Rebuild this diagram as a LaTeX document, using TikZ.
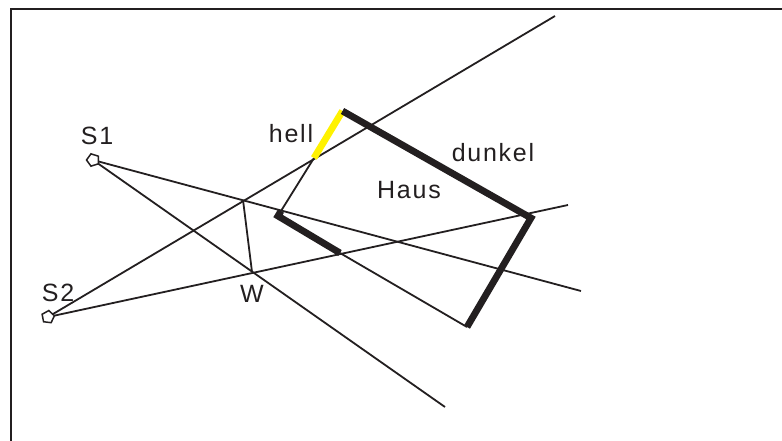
\documentclass[tikz,border=0pt]{standalone}
\usepackage{fontspec}
\setmainfont[LetterSpace=7]{Liberation Sans}
\definecolor{ink}{RGB}{35,31,32}
\usetikzlibrary{shapes.geometric}
\tikzset{
  thinline/.style={draw=ink,line width=1.8pt},
  thickline/.style={draw=ink,line width=6.8pt,line cap=butt,line join=miter},
  lightline/.style={draw=yellow,line width=6.8pt},
  source/.style={draw=ink,line width=1.5pt,fill=white,regular polygon,regular polygon sides=5,minimum size=13pt,inner sep=0pt},
  lbl/.style={text=ink,font=\fontsize{25}{28}\selectfont,inner sep=0pt,anchor=base}
}
\begin{document}
\begin{tikzpicture}[x=1pt,y=-1pt]
\useasboundingbox (0,0) rectangle (782,441);
\fill[white] (0,0) rectangle (782,441);
\coordinate (FA) at (11,441);
\coordinate (FB) at (11,9);
\coordinate (FC) at (782,9);
\draw[draw=ink,line width=2.2pt] (FA) -- (FB) -- (FC);
\coordinate (E1) at (581,291);
\coordinate (E2) at (445,407);
\coordinate (E3) at (555,16);
\coordinate (E4) at (568,205);
\coordinate (A) at (243,200);
\coordinate (W) at (252,272);
\coordinate (H1) at (314,158);
\coordinate (H2) at (342.5,111);
\coordinate (H3) at (531,218);
\coordinate (H4) at (467,327);
\coordinate (H5) at (340,253);
\coordinate (H6) at (278,216);
\coordinate (H7) at (281,211);
\draw[thinline] (93,160) -- (E1);
\draw[thinline] (93,160) -- (E2);
\draw[thinline] (48,317) -- (E3);
\draw[thinline] (48,317) -- (E4);
\draw[thinline] (A) -- (W);
\draw[thinline] (H1) -- (H7);
\draw[thinline] (H4) -- (H5);
\draw[lightline] (H1) -- (H2);
\draw[thickline] (H2) -- (H3) -- (H4);
\draw[thickline] (H5) -- (H6) -- (H7);
\node[source,rotate=90] (S1) at (93,160) {};
\node[source,rotate=65] (S2) at (48,317) {};
\node[lbl] (LS1) at (97,145) {S1};
\node[lbl] (LS2) at (58,301) {S2};
\node[lbl] (LW) at (252,302) {W};
\node[lbl] (Lhell) at (291,143) {hell};
\node[lbl] (Ldunkel) at (493,161) {dunkel};
\node[lbl] (LHaus) at (409,198) {Haus};
\end{tikzpicture}
\end{document}
